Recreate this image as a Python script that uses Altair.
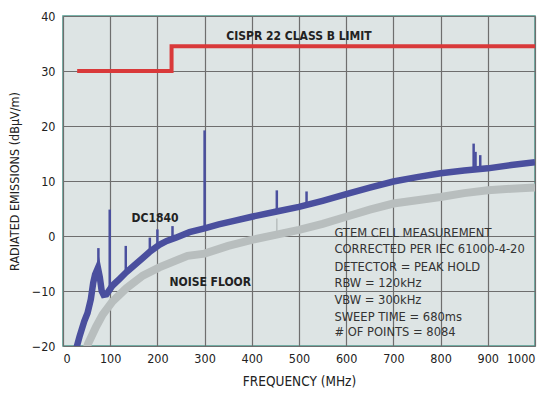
import altair as alt
import pandas as pd

FONT = "Liberation Sans Narrow, DejaVu Sans Condensed, Arial Narrow, sans-serif"

# DC1840 trace (frequency MHz, dBuV/m)
blue_freq = [28, 35, 45, 52, 59, 64, 68, 74, 78, 82, 86, 92, 97, 105, 120, 134, 150, 169, 185,
             204, 220, 239, 268, 300, 330, 360, 400, 450, 500, 550, 600, 650, 700, 750, 800,
             850, 900, 950, 1000]
blue_db = [-20.5, -18.3, -15.5, -14.0, -11.5, -8.5, -7.0, -5.8, -7.5, -10.0, -10.7, -10.6, -10.0,
           -9.0, -7.8, -6.6, -5.4, -4.0, -2.8, -1.6, -0.9, -0.3, 0.7, 1.4, 2.1, 2.7, 3.5, 4.4,
           5.3, 6.4, 7.6, 8.8, 9.9, 10.7, 11.4, 11.9, 12.3, 12.9, 13.4]

# DC1840 narrow spurs
spike_freq = [75, 99, 133, 184, 200, 232, 300, 453, 516, 870, 874, 884]
spike_base = [-6.0, -10.0, -6.8, -3.0, -1.9, -0.6, 1.2, 4.4, 5.6, 12.0, 12.0, 12.0]
spike_top = [-2.2, 4.8, -1.8, -0.3, 1.2, 1.8, 19.2, 8.3, 8.1, 16.8, 15.3, 14.7]

# Noise floor trace
gray_freq = [50, 53, 70, 84, 105, 134, 169, 204, 264, 300, 350, 400, 450, 500, 550, 600, 650,
             700, 750, 800, 850, 900, 950, 1000]
gray_db = [-20.5, -19.6, -16.5, -14.3, -11.9, -9.5, -7.2, -5.7, -3.6, -3.2, -1.8, -0.7, 0.2,
           1.1, 2.2, 3.5, 4.8, 5.9, 6.5, 7.1, 7.8, 8.3, 8.6, 8.8]

# CISPR 22 Class B limit
limit_freq = [30, 230, 230, 1000]
limit_db = [30, 30, 34.5, 34.5]

notes = ["GTEM CELL MEASUREMENT", "CORRECTED PER IEC 61000-4-20", "DETECTOR = PEAK HOLD",
         "RBW = 120kHz", "VBW = 300kHz", "SWEEP TIME = 680ms", "# OF  POINTS = 8084"]
note_db = [0.55, -2.4, -5.6, -8.6, -11.7, -14.7, -17.5]

blue_df = pd.DataFrame({"f": blue_freq, "db": blue_db})
gray_df = pd.DataFrame({"f": gray_freq, "db": gray_db})
spike_df = pd.DataFrame({"f": spike_freq, "lo": spike_base, "hi": spike_top})
limit_df = pd.DataFrame({"f": limit_freq, "db": limit_db, "o": list(range(4))})
notes_df = pd.DataFrame({"t": notes, "db": note_db, "f": [575] * len(notes)})

xs = alt.Scale(domain=[0, 1000], nice=False)
ys = alt.Scale(domain=[-20, 40], nice=False)

xax = alt.X("f:Q", scale=xs, axis=alt.Axis(
    values=list(range(0, 1001, 100)), format="d", title="FREQUENCY (MHz)", grid=True, ticks=False,
    domain=False, labelPadding=6, titlePadding=10, labelFontSize=12.5, titleFontSize=13.5,
    labelColor="#222", titleColor="#222", labelFont=FONT, titleFont=FONT,
    titleFontWeight="normal", gridColor="#6e6e6e", gridWidth=1.2))
yax = alt.Y("db:Q", scale=ys, axis=alt.Axis(
    values=list(range(-20, 41, 10)), title="RADIATED EMISSIONS (dBµV/m)", grid=True,
    ticks=False, domain=False, labelPadding=8, titlePadding=10, labelFontSize=12.5,
    titleFontSize=12.5, labelColor="#222", titleColor="#222", labelFont=FONT,
    titleFont=FONT, titleFontWeight="normal", gridColor="#6e6e6e", gridWidth=1.2))

gray = alt.Chart(gray_df).mark_line(color="#b8bebe", strokeWidth=8, clip=True).encode(x=xax, y=yax)
gray_sp = alt.Chart(pd.DataFrame({"f": [453], "lo": [0.0], "hi": [3.2]})).mark_rule(
    color="#b8bebe", strokeWidth=1.5).encode(x="f:Q", y="lo:Q", y2="hi:Q")
blue = alt.Chart(blue_df).mark_line(color="#4a4f9e", strokeWidth=6.5, clip=True).encode(x="f:Q", y="db:Q")
spikes = alt.Chart(spike_df).mark_rule(color="#4a4f9e", strokeWidth=2.5).encode(
    x="f:Q", y="lo:Q", y2="hi:Q")
limit = alt.Chart(limit_df).mark_line(color="#d9393a", strokeWidth=4, interpolate="linear").encode(
    x="f:Q", y="db:Q", order="o:Q")

lbl = dict(font=FONT, fontSize=12, fontWeight="bold", color="#222")
t1 = alt.Chart(pd.DataFrame({"f": [500], "db": [36.4], "t": ["CISPR 22 CLASS B LIMIT"]})).mark_text(
    **lbl).encode(x="f:Q", y="db:Q", text="t:N")
t2 = alt.Chart(pd.DataFrame({"f": [195], "db": [3.3], "t": ["DC1840"]})).mark_text(
    **lbl).encode(x="f:Q", y="db:Q", text="t:N")
t3 = alt.Chart(pd.DataFrame({"f": [312], "db": [-8.4], "t": ["NOISE FLOOR"]})).mark_text(
    **lbl).encode(x="f:Q", y="db:Q", text="t:N")
t4 = alt.Chart(notes_df).mark_text(font=FONT, fontSize=12.8, color="#333", align="left").encode(
    x="f:Q", y="db:Q", text="t:N")

chart = alt.layer(gray, gray_sp, blue, spikes, limit, t1, t2, t3, t4).properties(
    width=472, height=330,
    autosize=alt.AutoSizeParams(type="none"),
    padding={"left": 55, "top": 8, "right": 2, "bottom": 48},
    background="white",
).configure_view(fill="#dde4e4", stroke="#4f9a8f", strokeWidth=1.5)

chart.save("out.html", embed_options={"renderer": "svg", "actions": False})
